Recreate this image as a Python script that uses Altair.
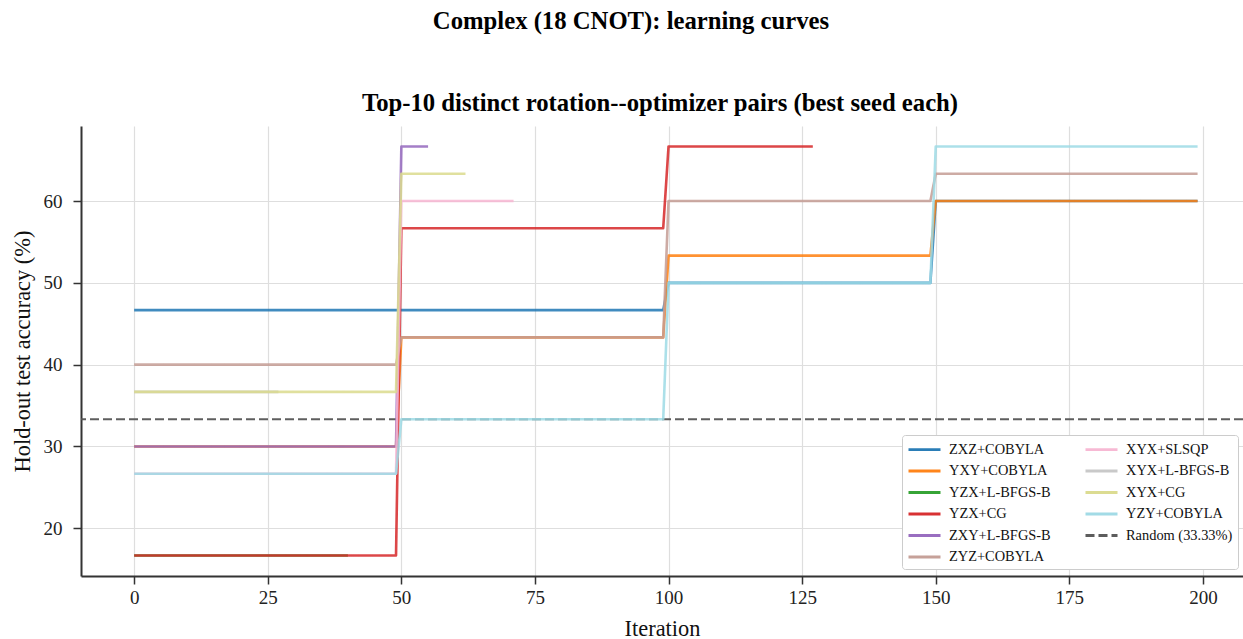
import altair as alt
import pandas as pd

# Iterations at which each 50-iteration block starts
block_starts = [0, 50, 100, 150]

series_names = [
    "ZXZ+COBYLA", "YXY+COBYLA", "YZX+L-BFGS-B", "YZX+CG", "ZXY+L-BFGS-B",
    "ZYZ+COBYLA", "XYX+SLSQP", "XYX+L-BFGS-B", "XYX+CG", "YZY+COBYLA",
]
series_colors = [
    "#1f77b4", "#ff7f0e", "#2ca02c", "#d62728", "#9467bd",
    "#c49c94", "#f7b6d2", "#c7c7c7", "#dbdb8d", "#9edae5",
]
# Hold-out accuracy (%) held during each block, per run
series_levels = [
    [46.67, 46.67, 50.00, 60.00],
    [30.00, 43.33, 53.33, 60.00],
    [16.67],
    [16.67, 56.67, 66.67],
    [30.00, 66.67],
    [40.00, 43.33, 60.00, 63.33],
    [26.67, 60.00],
    [36.67],
    [36.67, 63.33],
    [26.67, 33.33, 50.00, 66.67],
]
# Last recorded iteration of each run
series_last_iter = [199, 199, 40, 127, 55, 199, 71, 27, 62, 199]

random_label = "Random (33.33%)"
random_level = 33.33
random_color = "#555555"

x_ticks = [0, 25, 50, 75, 100, 125, 150, 175, 200]
y_ticks = [20, 30, 40, 50, 60]

main_title = "Complex (18 CNOT): learning curves"
panel_title = "Top-10 distinct rotation--optimizer pairs (best seed each)"

FONT = "Liberation Serif"

# Breakpoints of each step curve
rows = []
for name, levels, last in zip(series_names, series_levels, series_last_iter):
    for k, level in enumerate(levels):
        start = block_starts[k]
        end = last if k == len(levels) - 1 else min(block_starts[k + 1] - 1, last)
        rows.append({"series": name, "iter": start, "acc": level})
        rows.append({"series": name, "iter": end, "acc": level})
curves = pd.DataFrame(rows)
baseline = pd.DataFrame([{"series": random_label, "acc": random_level}])

legend_order = series_names + [random_label]
all_colors = dict(zip(series_names, series_colors))
all_colors[random_label] = random_color
color_scale = alt.Scale(domain=legend_order, range=[all_colors[s] for s in legend_order])
dash_scale = alt.Scale(
    domain=legend_order,
    range=[[9, 4] if s == random_label else [1, 0] for s in legend_order],
)

legend_style = dict(
    columns=2,
    symbolType="M-1,0H3",
    symbolSize=256,
    symbolStrokeWidth=2.8,
    labelFont=FONT,
    labelFontSize=14.4,
    labelColor="#111111",
    labelOffset=23,
    labelLimit=220,
    columnPadding=28,
    rowPadding=5.5,
    padding=5,
    strokeColor="#cccccc",
    fillColor="white",
    cornerRadius=3,
)
legend = alt.Legend(title=None, orient="none", legendX=821, legendY=309, **legend_style)

x_enc = alt.X(
    "iter:Q",
    scale=alt.Scale(domain=[-9.95, 207.5], nice=False, zero=False),
    axis=alt.Axis(
        values=x_ticks, title="Iteration", titleY=52, titleBaseline="middle",
        labelPadding=4,
    ),
)
y_enc = alt.Y(
    "acc:Q",
    scale=alt.Scale(domain=[14.17, 69.17], nice=False, zero=False),
    axis=alt.Axis(
        values=y_ticks, title="Hold-out test accuracy (%)",
        titleX=-59, titleY=225, titleAngle=-90, titleBaseline="middle", titleAlign="center",
        labelPadding=11,
    ),
)
color_enc = alt.Color("series:N", scale=color_scale, legend=legend)
dash_enc = alt.StrokeDash("series:N", scale=dash_scale, legend=legend)

rule = alt.Chart(baseline).mark_rule(strokeWidth=2.2, opacity=0.95).encode(
    y=y_enc, color=color_enc, strokeDash=dash_enc
)

layers = [rule]
for name in series_names:
    layers.append(
        alt.Chart(curves)
        .transform_filter(alt.datum.series == name)
        .mark_line(strokeWidth=2.6, opacity=0.85, strokeJoin="round")
        .encode(x=x_enc, y=y_enc, color=color_enc, strokeDash=dash_enc)
    )

titles = pd.DataFrame([{"t": main_title}])
layers.append(
    alt.Chart(titles).mark_text(
        font=FONT, fontSize=24.7, fontWeight="bold", color="black",
        align="center", baseline="middle",
    ).encode(x=alt.value(550), y=alt.value(-104), text="t:N")
)
subtitles = pd.DataFrame([{"t": panel_title}])
layers.append(
    alt.Chart(subtitles).mark_text(
        font=FONT, fontSize=24.7, fontWeight="bold", color="black",
        align="center", baseline="middle",
    ).encode(x=alt.value(579), y=alt.value(-22), text="t:N")
)

chart = (
    alt.layer(*layers)
    .properties(
        width=1162,
        height=450,
        background="white",
        autosize=alt.AutoSizeParams(type="none"),
        padding={"left": 81, "top": 126, "right": 0, "bottom": 63},
    )
    .configure_view(stroke=None)
    .configure_axis(
        domainColor="#333333", domainWidth=2,
        tickColor="#333333", tickWidth=1.5, tickSize=8,
        gridColor="#dedede", gridWidth=1.2,
        labelFont=FONT, labelFontSize=19, labelColor="#222222",
        titleFont=FONT, titleFontSize=22.4, titleFontWeight="normal", titleColor="#111111",
    )
    .configure_legend(**legend_style)
)

chart.save("out.html", embed_options={"renderer": "svg", "actions": False})
